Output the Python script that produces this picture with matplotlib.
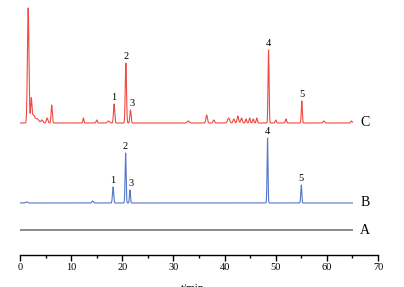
import numpy as np
import matplotlib.pyplot as plt

plt.rcParams['font.family'] = ['Liberation Serif', 'DejaVu Serif']

# peak tables: retention time (min), height, width (sigma)
c_rt = [1.6, 2.2, 2.6, 3.4, 4.3, 5.3, 6.2, 12.4, 15.0, 17.3, 18.4, 20.7, 21.6, 32.9,
        36.5, 37.9, 40.8, 41.8, 42.6, 43.3, 44.2, 44.9, 45.6, 46.3, 48.6, 50.0, 52.0,
        55.1, 59.4, 64.8]
c_h = [115, 22, 8, 4, 3, 5, 18, 5, 3, 2, 19, 60, 13, 2,
       8, 3, 5, 4, 7, 5, 4, 5, 4, 5, 73, 3, 4,
       22, 2, 2]
c_w = [0.15, 0.12, 0.3, 0.3, 0.2, 0.15, 0.12, 0.1, 0.12, 0.2, 0.12, 0.12, 0.12, 0.2,
       0.15, 0.15, 0.2, 0.15, 0.15, 0.15, 0.12, 0.12, 0.12, 0.12, 0.1, 0.12, 0.12,
       0.1, 0.15, 0.15]

b_rt = [1.3, 14.2, 18.2, 20.65, 21.5, 48.4, 55.0]
b_h = [1, 2, 16, 50, 13, 65, 18]
b_w = [0.2, 0.15, 0.12, 0.1, 0.1, 0.09, 0.1]

# baseline offsets of traces A, B, C
offsets = {'A': 25, 'B': 52, 'C': 132}

c_labels = ['1', '2', '3', '4', '5']
c_lab_rt = [18.4, 20.7, 21.9, 48.6, 55.1]
c_lab_h = [19, 60, 13, 73, 22]
b_lab_rt = [18.2, 20.65, 21.8, 48.4, 55.0]
b_lab_h = [16, 50, 13, 65, 18]

t = np.linspace(0, 65, 13001)


def trace(rt, h, w):
    y = np.zeros_like(t)
    for r, a, s in zip(rt, h, w):
        y += a * np.exp(-0.5 * ((t - r) / s) ** 2)
    return y


fig = plt.figure(figsize=(4.04, 2.87), dpi=100)
ax = fig.add_axes([20 / 404, 32 / 287, 358 / 404, 255 / 287])

ax.plot(t, np.zeros_like(t) + offsets['A'], color='#333333', lw=0.8)
ax.plot(t, trace(b_rt, b_h, b_w) + offsets['B'], color='#5577c8', lw=0.8)
ax.plot(t, trace(c_rt, c_h, c_w) + offsets['C'], color='#ee4a40', lw=0.8)

for lab, r, h in zip(c_labels, c_lab_rt, c_lab_h):
    ax.text(r, offsets['C'] + h + 2, lab, ha='center', va='bottom', fontsize=7.5)
for lab, r, h in zip(c_labels, b_lab_rt, b_lab_h):
    ax.text(r, offsets['B'] + h + 2, lab, ha='center', va='bottom', fontsize=7.5)

for k, v in offsets.items():
    ax.text(66.5, v, k, ha='left', va='center', fontsize=10)

ax.set_xlim(0, 70)
ax.set_ylim(0, 255)
ax.set_xticks(np.arange(0, 71, 10))
ax.set_xticks(np.arange(5, 70, 10), minor=True)
ax.set_yticks([])
for s in ['top', 'right', 'left']:
    ax.spines[s].set_visible(False)
ax.spines['bottom'].set_linewidth(1.0)
ax.tick_params(axis='x', which='major', length=4, width=1, labelsize=7.5, pad=2)
ax.tick_params(axis='x', which='minor', length=2, width=1)
ax.patch.set_alpha(0)

fig.text(193 / 404, 3 / 287, 't/min', ha='center', va='top', fontsize=8)

plt.savefig('out.png', dpi=100)
